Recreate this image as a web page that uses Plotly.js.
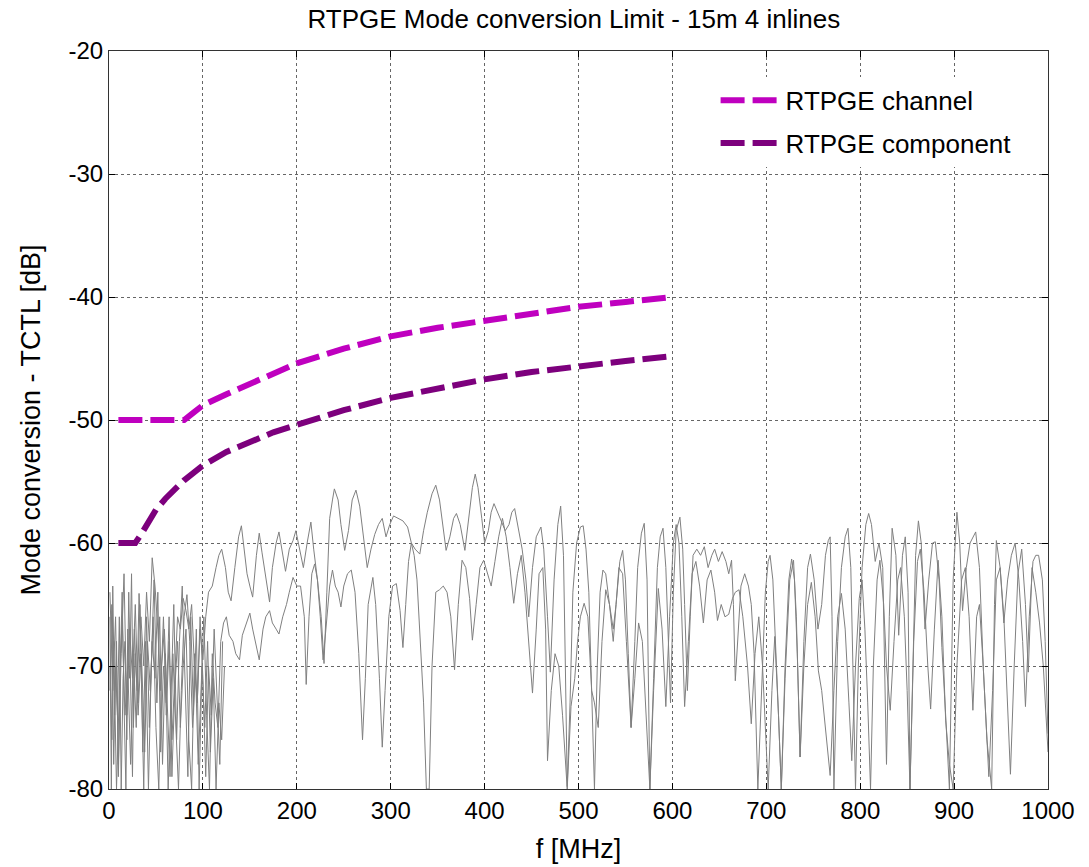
<!DOCTYPE html>
<html>
<head>
<meta charset="utf-8">
<script src="https://cdn.plot.ly/plotly-3.0.1.min.js"></script>
<style>html,body{margin:0;padding:0;background:#fff;}#chart{width:1089px;height:867px;}</style>
</head>
<body>
<div id="chart"></div>
<script>
// ---------- Limit lines ----------
const channelF = [10,20,30,40,50,60,70,80,90,100,125,150,175,200,250,300,350,400,450,500,550,600];
const channelDB = [-50,-50,-50,-50,-50,-50,-50,-50,-49.4,-48.8,-47.9,-47.1,-46.2,-45.4,-44.2,-43.2,-42.5,-41.9,-41.3,-40.8,-40.4,-40.0];

const componentF = [10,20,28,35,40,50,60,70,80,90,100,125,150,175,200,250,300,350,400,450,500,550,600];
const componentDB = [-60,-60,-60,-59.2,-58.5,-57.3,-56.4,-55.6,-54.9,-54.3,-53.7,-52.6,-51.8,-51.0,-50.4,-49.2,-48.2,-47.4,-46.7,-46.1,-45.6,-45.2,-44.8];

const measAF = [1,4,7,10,13,16,19,22,25,28,31,34,37,40,43,46,49,52,55,58,61,64,67,70,73,76,79,82,85,88,91,94,97,100,103,106,110,114,117,120,124,127,130,134,138,141,144,147,150,153,157,160,163,167,171,174,178,181,185,188,192,196,199,203,207,211,215,218,222,226,229,232,235,238,240,244,247,251,255,259,263,267,271,275,279,283,287,291,295,299,303,308,313,318,322,326,331,335,339,344,348,352,356,359,363,367,370,374,379,383,387,390,393,397,400,404,407,410,414,418,422,426,429,432,436,440,444,447,451,455,460,463,467,470,474,478,481,484,486,488,491,494,498,502,505,508,511,514,517,520,523,526,529,533,537,540,544,547,550,553,556,560,563,567,570,573,576,580,584,587,590,593,596,598,601,604,608,611,613,616,619,622,626,630,634,638,642,645,649,653,657,660,663,665,667,670,673,677,681,684,687,691,695,699,702,704,707,710,713,716,720,724,727,730,733,736,740,744,747,751,755,759,763,766,768,770,772,776,780,784,787,790,793,795,798,802,806,809,812,816,820,824,828,831,834,838,841,845,848,851,853,856,859,862,865,869,873,877,880,884,887,891,895,899,903,906,909,913,917,923,927,931,935,940,943,945,949,953,957,961,965,969,973,976,980,984,987,990,994,997,1000];
const measADB = [-64,-72,-66,-78,-69,-62.5,-74,-67,-71,-65,-73,-66,-70,-64,-68,-61.2,-63.5,-67,-72,-66,-74,-68,-76,-71,-66,-67,-64.5,-65.5,-67,-65,-70,-73,-67,-69.5,-66,-64,-63.5,-62,-61,-60.5,-62,-64,-64.7,-62,-59.5,-58.6,-60.5,-62.5,-63.5,-64.4,-61,-59.2,-60.8,-63,-64.8,-62,-60,-59.1,-61,-62.3,-60.5,-59.8,-59,-60.5,-62,-60,-58.3,-60.5,-63,-66,-69.8,-64,-58,-56.5,-55.6,-56.5,-58.5,-60.6,-59,-56.5,-55.7,-57,-59.5,-62,-60.5,-59.3,-58.5,-58,-59.5,-58.5,-57.8,-58,-58.2,-58.7,-60,-60.5,-60.9,-59,-57.5,-56,-55.3,-56.5,-59,-60.6,-59.5,-58,-57.6,-58.5,-60.6,-58,-55.5,-54.4,-55.5,-58,-60,-59,-57.5,-56.8,-57.5,-58.3,-59,-58.5,-57.5,-57.2,-59,-60.5,-63,-66,-62,-59.5,-58.7,-60.5,-66,-70.5,-63,-58.5,-57,-61,-70,-79.8,-73,-64,-60,-58.7,-58.6,-60.5,-64,-72,-80,-70,-64,-62.2,-62.5,-65,-68,-65,-61.5,-60.6,-63,-69,-75,-68,-62,-59.2,-58.4,-63,-80,-71,-62,-59.5,-58.8,-62,-68,-73,-64,-59,-57.9,-60.5,-65,-72,-66,-61,-60.5,-61,-60.3,-62,-61,-60.5,-61.5,-60.7,-61.5,-62.5,-61.4,-65,-71.2,-67,-63.5,-62.5,-63.5,-65,-69,-80,-72,-64,-61.5,-61,-63,-68,-74,-80,-70,-63,-61.3,-63,-69,-77.4,-68,-62,-60.9,-63,-67,-65,-61,-59.8,-59.5,-66,-80,-68,-62,-59.5,-58.8,-62,-72,-80,-70,-62,-58.5,-57.6,-58.5,-61.5,-60,-62,-78,-66,-58.8,-61,-67.5,-61,-59.5,-64,-80,-70,-61,-58.2,-60,-67,-63,-60,-59.9,-63,-68.5,-74,-80,-63,-57.5,-60,-65.5,-62,-60,-59.1,-62,-70,-76,-80,-65,-59.8,-62,-66.5,-63,-61,-60,-63,-68,-73.3,-66,-61.5,-61,-61,-63,-68,-75.5];

const measBF = [1,3,5,8,11,14,17,20,23,26,29,32,35,38,41,44,47,50,53,56,59,62,65,68,71,74,77,80,83,86,89,92,95,98,101,104,107,110,113,116,119,122,125,128,132,135,139,142,146,150,153,157,160,164,167,171,174,178,181,185,189,192,196,200,204,208,210,213,216,219,222,225,228,231,235,238,241,244,247,250,254,258,262,266,270,273,276,281,284,288,291,294,298,302,306,310,313,316,319,322,325,328,331,335,338,341,344,348,352,356,360,364,368,372,376,380,384,387,391,395,399,403,407,411,415,419,423,427,431,435,439,443,447,451,455,458,462,465,467,471,475,479,483,488,492,496,499,502,506,510,514,517,521,525,529,533,537,540,543,547,551,556,560,564,568,572,576,580,585,589,593,597,601,604,607,610,613,617,621,625,629,633,637,641,645,648,652,656,660,664,667,671,675,680,684,688,692,696,699,702,706,709,713,716,720,725,729,732,736,740,744,748,752,755.5,759,764,768,772,776,780,784,788,791,795,799,802,805,808,811,814,818,821,825,828,832,836,840,843,847,850,853,857,861,864,868,872,875,879,883,887,891,895,899,903,908,912,916,920,924,927,931,937,941,945,949,953,957,960,964,968,972,976,979,983,987,991,995,1000];
const measBDB = [-70,-76,-68,-80,-72,-66,-74,-70,-78,-69,-75,-64.1,-70,-77,-68,-72,-66,-75,-80,-70,-67,-73,-79,-69,-74,-80,-72,-66,-64.2,-68,-75,-70,-78,-72,-66,-74,-80,-69,-73,-75,-68,-66.5,-66,-67.5,-68,-69,-69.5,-67.5,-66.5,-65.7,-67,-68.5,-69.5,-67,-66,-65.5,-66.5,-67,-67.4,-66,-65,-64,-62.8,-63.5,-63.5,-66,-71.5,-66,-62.5,-61.7,-63,-66,-69.5,-67,-63.5,-62.2,-63.5,-64,-65.2,-63.5,-62.5,-62.2,-64,-69,-76,-71,-65,-62.8,-65,-71,-76.6,-72,-66,-63.5,-63.3,-65.5,-68.5,-65,-61.5,-60,-61,-63,-67,-73,-80,-80,-70,-64,-63.8,-63.5,-64,-66,-70.3,-65,-61.4,-62,-64.5,-67.9,-65,-62,-61.4,-62.5,-63.5,-61.5,-59.5,-58,-59.5,-62,-64.9,-62.5,-61,-64,-68,-72.2,-67,-62.5,-62,-67,-77.7,-72,-69,-70,-74,-80,-73.3,-71,-68,-66,-64.9,-66,-72,-73,-75,-68,-63.8,-65,-67,-65,-62,-62.5,-68,-75,-71,-66.5,-68,-74,-80,-72,-63.7,-67,-73.3,-66,-60,-58.5,-60,-66,-73.3,-68,-62.5,-61.5,-63.5,-66.5,-63,-62.2,-64,-66.3,-65,-66,-65.8,-64.5,-64,-63.8,-66,-70,-74.7,-69,-66,-70,-75,-80,-72,-67.6,-74,-80,-71,-63,-61.4,-66,-77.4,-70,-65,-63.2,-66,-70.4,-72,-76,-78.9,-72,-66,-64.1,-67,-73,-77.7,-70,-64.5,-63,-67,-73,-80,-70,-63,-61.4,-65,-70,-73.6,-68,-63,-62,-66,-72,-80,-68,-61.5,-60.5,-64,-70,-73.5,-67,-61.4,-66,-74.4,-78,-80,-70,-63,-62,-66,-73.6,-66,-65,-70,-79,-72,-63,-62,-66,-73,-78.8,-70,-62.5,-60.5,-65,-70.5,-62,-64,-66.5,-70,-77];

const measCF = [1,2.5,4,6,8,10,12,14,16,18,20,22,24,26,28,30,33,36,39,42,45,48,51,54,57,60,63,66,69,72,75,78,81,84,87,90,93,96,99,102,105,108,111,114,117,120,123];
const measCDB = [-66,-80,-63.5,-74,-68,-79,-70,-64,-73,-80,-67,-71,-62.5,-75,-69,-72,-65,-77,-68,-80,-70,-63,-73,-66,-78,-69,-80,-72,-65,-76,-68,-63.5,-71,-79,-66,-74,-67,-80,-70,-75,-68,-77,-71,-80,-73,-76,-70];

const measDF = [1,3,5,7,9,11,13,15,17,19,21,23,25,27,29,31,34,37,40,43,46,49,52,55,58,61,64,67,70,73,76,79,82,85,88,91,94,97,100,103,106,109,112,115,118,121];
const measDDB = [-72,-65,-78,-70,-74,-66,-80,-71,-68,-76,-64,-72,-79,-67,-70,-74,-69,-80,-66,-75,-68,-71,-64,-77,-70,-73,-66,-79,-72,-68,-75,-70,-67,-76,-80,-69,-73,-66,-71,-79,-70,-74,-67,-72,-78,-68];

// ---------- Axis ticks ----------
const xTicks = [0,100,200,300,400,500,600,700,800,900,1000];
const yTicks = [-80,-70,-60,-50,-40,-30,-20];

const FONT = 'Liberation Sans, Arial, sans-serif';
const grey = '#808080';
const measTrace = (f, v) => ({x: f, y: v, type: 'scatter', mode: 'lines', line: {color: grey, width: 1}, showlegend: false, hoverinfo: 'skip'});

const data = [
  measTrace(measCF, measCDB),
  measTrace(measDF, measDDB),
  measTrace(measAF, measADB),
  measTrace(measBF, measBDB),
  {x: channelF, y: channelDB, type: 'scatter', mode: 'lines', name: 'RTPGE channel', legendgroup: 'a',
   line: {color: '#BF00BF', width: 6, dash: '24px,8px'}},
  {x: componentF, y: componentDB, type: 'scatter', mode: 'lines', name: 'RTPGE component', legendgroup: 'b',
   line: {color: '#7D007D', width: 6, dash: '24px,8px'}}
];

const axisCommon = {
  showline: true, linecolor: '#333', linewidth: 1, mirror: 'allticks',
  ticks: 'inside', ticklen: 6, tickcolor: '#000', tickwidth: 1,
  showgrid: true, gridcolor: '#666', griddash: 'dot', gridwidth: 1,
  zeroline: false, tickfont: {family: FONT, size: 24, color: '#000'}
};

const layout = {
  width: 1089, height: 867,
  paper_bgcolor: '#fff', plot_bgcolor: '#fff',
  margin: {l: 109, r: 41, t: 51, b: 78, pad: 0},
  font: {family: FONT, color: '#000'},
  title: {text: 'RTPGE Mode conversion Limit - 15m 4 inlines', x: 0.527, xanchor: 'center',
          y: 0.978, yanchor: 'middle', yref: 'container', font: {family: FONT, size: 26, color: '#000'}},
  xaxis: Object.assign({}, axisCommon, {
    range: [0, 1000], tickvals: xTicks, ticktext: xTicks.map(String),
    title: {text: 'f [MHz]', font: {family: FONT, size: 27, color: '#000'}, standoff: 16}
  }),
  yaxis: Object.assign({}, axisCommon, {
    range: [-80, -20], tickvals: yTicks, ticktext: yTicks.map(String),
    title: {text: 'Mode conversion - TCTL [dB]', font: {family: FONT, size: 27, color: '#000'}, standoff: 20}
  }),
  legend: {x: 0.646, y: 0.965, xanchor: 'left', yanchor: 'top', bgcolor: '#fff', borderwidth: 0,
           font: {family: FONT, size: 26, color: '#000'}, tracegroupgap: 6, traceorder: 'grouped', itemwidth: 60},
  showlegend: true
};

Plotly.newPlot('chart', data, layout, {displayModeBar: false, staticPlot: true});
</script>
</body>
</html>
